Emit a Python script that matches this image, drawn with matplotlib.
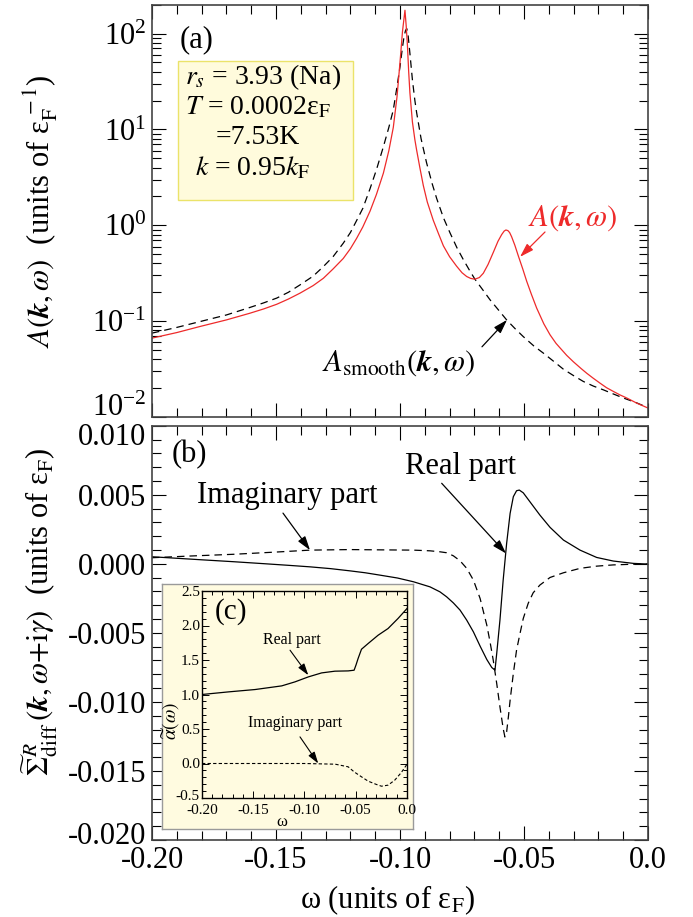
import matplotlib
matplotlib.use('Agg')
import matplotlib.pyplot as plt
import matplotlib.ticker as mticker
import matplotlib.transforms as mtrans
from matplotlib.patches import Rectangle
import numpy as np

plt.rcParams['font.family'] = 'serif'
plt.rcParams['font.serif'] = ['Liberation Serif', 'DejaVu Serif']
plt.rcParams['mathtext.fontset'] = 'stix'
plt.rcParams['axes.unicode_minus'] = False

#----------------------------------------------------------------------------
# panel (a): spectral function A(k,w), log scale
w_red = [-0.2000, -0.1900, -0.1806, -0.1700, -0.1605, -0.1550, -0.1497, -0.1450, -0.1403,
         -0.1350, -0.1309, -0.1270, -0.1229, -0.1200, -0.1175, -0.1150, -0.1121, -0.1095,
         -0.1067, -0.1045, -0.1027, -0.1012, -0.1000, -0.0990, -0.0980, -0.0975, -0.0970,
         -0.0965, -0.0960, -0.0950, -0.0940, -0.0933, -0.0920, -0.0906, -0.0890, -0.0866,
         -0.0845, -0.0825, -0.0800, -0.0772, -0.0750, -0.0731, -0.0715, -0.0698, -0.0680,
         -0.0664, -0.0645, -0.0624, -0.0605, -0.0590, -0.0580, -0.0573, -0.0565, -0.0558,
         -0.0550, -0.0537, -0.0523, -0.0505, -0.0489, -0.0470, -0.0449, -0.0420, -0.0395,
         -0.0371, -0.0355, -0.0328, -0.0301, -0.0269, -0.0247, -0.0221, -0.0194, -0.0167,
         -0.0140, -0.0113, -0.0086, -0.0044, 0.0]
A_red = [0.0665, 0.076, 0.088, 0.103, 0.121, 0.134, 0.150, 0.170, 0.196,
         0.235, 0.280, 0.350, 0.450, 0.57, 0.73, 0.96, 1.40, 2.1,
         3.5, 6.0, 10.5, 22.0, 50.0, 105.0, 175.0, 120.0, 75.0,
         40.0, 24.0, 12.0, 7.8, 6.1, 4.0, 2.6, 1.75, 1.13,
         0.82, 0.61, 0.47, 0.375, 0.32, 0.292, 0.279, 0.274, 0.285,
         0.316, 0.39, 0.52, 0.68, 0.80, 0.87, 0.893, 0.88, 0.84,
         0.76, 0.62, 0.48, 0.35, 0.26, 0.19, 0.137, 0.0937, 0.0720,
         0.0587, 0.0527, 0.0440, 0.0377, 0.0319, 0.0286, 0.0254, 0.0226, 0.0202,
         0.0185, 0.0170, 0.0158, 0.0139, 0.0124]

w_smooth = [-0.2000, -0.1900, -0.1806, -0.1700, -0.1605, -0.1550, -0.1497, -0.1450, -0.1403,
            -0.1350, -0.1309, -0.1270, -0.1229, -0.1200, -0.1175, -0.1150, -0.1121, -0.1095,
            -0.1067, -0.1045, -0.1027, -0.1012, -0.1000, -0.0990, -0.0984, -0.0978, -0.0973,
            -0.0968, -0.0960, -0.0950, -0.0940, -0.0933, -0.0915, -0.0893, -0.0870, -0.0852,
            -0.0825, -0.0798, -0.0770, -0.0745, -0.0720, -0.0698, -0.0665, -0.0637, -0.0600,
            -0.0570, -0.0535, -0.0503, -0.0460, -0.0422, -0.0380, -0.0341, -0.0300, -0.0261,
            -0.0220, -0.0180, -0.0140, -0.0100, -0.0050, 0.0]
A_smooth = [0.075, 0.086, 0.099, 0.116, 0.139, 0.155, 0.174, 0.200, 0.239,
            0.295, 0.371, 0.47, 0.649, 0.84, 1.12, 1.5, 2.4, 3.8,
            6.6, 10.5, 16.0, 28.0, 45.0, 72.0, 92.0, 107.0, 113.0,
            100.0, 62.0, 33.0, 20.0, 15.0, 8.0, 4.5, 2.7, 1.9,
            1.2, 0.83, 0.58, 0.44, 0.34, 0.274, 0.21, 0.167, 0.128,
            0.103, 0.083, 0.069, 0.055, 0.0464, 0.038, 0.0315, 0.027, 0.0235,
            0.0210, 0.0192, 0.0174, 0.0158, 0.0142, 0.0125]

# panel (b): self energy difference, real and imaginary part
w_re = [-0.2, -0.19, -0.18, -0.167, -0.155, -0.145, -0.1363, -0.128, -0.1202,
        -0.1140, -0.1081, -0.1010, -0.0946, -0.0879, -0.0839, -0.0812, -0.0785, -0.0758,
        -0.0731, -0.0704, -0.0677, -0.0650, -0.0630, -0.0617, -0.0610, -0.0597, -0.0584,
        -0.0570, -0.0556, -0.0543, -0.0530, -0.0519, -0.0503, -0.0476, -0.0436, -0.0395,
        -0.0341, -0.0274, -0.0207, -0.0140, -0.0059, 0.0]
sig_re = [0.00051, 0.00040, 0.00029, 0.00015, 0.00001, -0.00011, -0.00022, -0.00035, -0.00051,
          -0.00065, -0.00082, -0.00103, -0.00130, -0.00167, -0.00203, -0.00239, -0.00283, -0.00335,
          -0.00408, -0.00493, -0.00596, -0.00693, -0.00751, -0.00770, -0.00649, -0.00408, -0.00118,
          0.00148, 0.00365, 0.00486, 0.00529, 0.00534, 0.00514, 0.00449, 0.00353, 0.00264,
          0.00172, 0.00099, 0.00046, 0.00020, 0.00003, -0.00002]

w_im = [-0.2, -0.185, -0.167, -0.15, -0.1363, -0.1202, -0.1081, -0.0946, -0.0879,
        -0.0839, -0.0812, -0.0785, -0.0758, -0.0731, -0.0704, -0.0677, -0.0650, -0.0637,
        -0.0624, -0.0610, -0.0597, -0.0584, -0.0577, -0.0570, -0.0563, -0.0556, -0.0543,
        -0.0530, -0.0516, -0.0503, -0.0483, -0.0463, -0.0436, -0.0395, -0.0341, -0.0274,
        -0.0207, -0.0140, -0.0059, 0.0]
sig_im = [0.00044, 0.00056, 0.00069, 0.00085, 0.00099, 0.00103, 0.00101, 0.00099, 0.00094,
          0.00087, 0.00080, 0.00058, 0.00022, -0.00033, -0.00118, -0.00251, -0.00444, -0.00565,
          -0.00698, -0.00867, -0.01036, -0.01193, -0.01254, -0.01217, -0.01109, -0.00988, -0.00794,
          -0.00625, -0.00504, -0.00396, -0.00286, -0.00210, -0.00154, -0.00099, -0.00065, -0.00033,
          -0.00017, -0.00008, -0.00003, -0.00002]

# panel (c): alpha(w)
w_alre = [-0.2, -0.1741, -0.1482, -0.1222, -0.1093, -0.0963, -0.0833, -0.0703, -0.0574,
          -0.0516, -0.0497, -0.0477, -0.0444, -0.0379, -0.0282, -0.0185, -0.0088, 0.0]
al_re = [1.00, 1.038, 1.072, 1.125, 1.183, 1.255, 1.313, 1.338, 1.342,
         1.352, 1.43, 1.522, 1.656, 1.739, 1.859, 1.956, 2.101, 2.246]
w_alim = [-0.2, -0.15, -0.10, -0.07, -0.0574, -0.0516, -0.0444, -0.0379, -0.0298,
          -0.0249, -0.0185, -0.0120, -0.0055, 0.0]
al_im = [0.0, 0.0, 0.0, -0.01, -0.048, -0.121, -0.193, -0.256, -0.304,
         -0.329, -0.314, -0.242, -0.130, -0.01]

x_ticks = [-0.20, -0.15, -0.10, -0.05, 0.0]
x_ticklabels = ['-0.20', '-0.15', '-0.10', '-0.05', '0.0']
ya_ticks = [0.01, 0.1, 1.0, 10.0, 100.0]
yb_ticks = [-0.020, -0.015, -0.010, -0.005, 0.000, 0.005, 0.010]
yb_ticklabels = ['-0.020', '-0.015', '-0.010', '-0.005', '0.000', '0.005', '0.010']
yc_ticks = [-0.5, 0.0, 0.5, 1.0, 1.5, 2.0, 2.5]
yc_ticklabels = ['-0.5', '0.0', '0.5', '1.0', '1.5', '2.0', '2.5']

RED = '#ee2a2a'
FS = 22
W, H = 693., 917.
ARROW = '-|>,head_length=0.7,head_width=0.22'

#----------------------------------------------------------------------------
def style(ax, fs, big, small, lw):
    ax.tick_params(which='both', direction='in', top=True, right=True, width=lw,
                   labelsize=fs, pad=4)
    ax.tick_params(which='major', length=big)
    ax.tick_params(which='minor', length=small)
    for s in ax.spines.values():
        s.set_linewidth(lw + 0.4)
        s.set_color('#444444')


def nudge(label, dy):
    # shift a tick label vertically by dy points
    label.set_transform(label.get_transform() +
                        mtrans.ScaledTranslation(0, dy/72., fig.dpi_scale_trans))


fig = plt.figure(figsize=(6.93, 9.17), dpi=100)

# ---------------- panel (a)
ax1 = fig.add_axes([152/W, 1-417/H, 496/W, 412.3/H])
ax1.set_yscale('log')
ax1.plot(w_smooth, A_smooth, color='k', lw=0.9, ls=(0, (6, 4)))
ax1.plot(w_red, A_red, color=RED, lw=0.9)
ax1.set_xlim(-0.2, 0.0)
ax1.set_ylim(0.01, 200)
ax1.xaxis.set_major_locator(mticker.FixedLocator(x_ticks))
ax1.xaxis.set_minor_locator(mticker.MultipleLocator(0.01))
ax1.yaxis.set_major_locator(mticker.FixedLocator(ya_ticks))
ax1.yaxis.set_minor_locator(mticker.LogLocator(base=10, subs=np.arange(2, 10), numticks=20))
ax1.yaxis.set_minor_formatter(mticker.NullFormatter())
style(ax1, FS, 10, 6.5, 0.8)
ax1.tick_params(labelbottom=False)
ax1.set_ylabel(r'$A(\boldsymbol{k},\omega)$  (units of ε$_{\rm F}^{\,-1}$)', fontsize=FS)
ax1.yaxis.set_label_coords(-0.185, 0.5)

ax1.text(0.09, 0.915, '(a)', transform=ax1.transAxes, fontsize=FS, ha='center', va='center')

ax1.add_patch(Rectangle((0.0524, 0.5263), 0.3528, 0.3371, transform=ax1.transAxes,
                        facecolor='#fffbdc', edgecolor='#ebe36a', lw=1.0, zorder=3))
ax1.text(0.0665, 0.8246, r'$r_s$ = 3.93 (Na)', transform=ax1.transAxes, fontsize=20,
         va='center', zorder=4)
ax1.text(0.0665, 0.7494, r'$T$ = 0.0002ε$_{\rm F}$', transform=ax1.transAxes, fontsize=20,
         va='center', zorder=4)
ax1.text(0.129, 0.6791, '=7.53K', transform=ax1.transAxes, fontsize=20,
         va='center', zorder=4)
ax1.text(0.0867, 0.6039, r'$k$ = 0.95$k_{\rm F}$', transform=ax1.transAxes, fontsize=20,
         va='center', zorder=4)

ax1.annotate('', xy=(-0.05161, 0.468), xytext=(-0.04153, 0.851),
             arrowprops=dict(arrowstyle=ARROW, color=RED, lw=0.9, mutation_scale=12,
                             shrinkA=0, shrinkB=0))
ax1.text(-0.0484, 1.19, r'$A(\boldsymbol{k},\omega)$', color=RED, fontsize=FS,
         ha='left', va='center')
ax1.annotate('', xy=(-0.05685, 0.103), xytext=(-0.06694, 0.054),
             arrowprops=dict(arrowstyle=ARROW, color='k', lw=0.9, mutation_scale=12,
                             shrinkA=0, shrinkB=0))
ax1.text(-0.1315, 0.0368, r'$A_{\rm smooth}(\boldsymbol{k},\omega)$', fontsize=FS,
         ha='left', va='center')

# ---------------- panel (b)
ax2 = fig.add_axes([152/W, 1-840/H, 496/W, 414.3/H])
ax2.plot(w_im, sig_im, color='k', lw=0.9, ls=(0, (6, 4)))
ax2.plot(w_re, sig_re, color='k', lw=0.9)
ax2.set_xlim(-0.2, 0.0)
ax2.set_ylim(-0.02, 0.01)
ax2.set_xticks(x_ticks)
ax2.set_xticklabels(x_ticklabels)
ax2.set_yticks(yb_ticks)
ax2.set_yticklabels(yb_ticklabels)
ax2.xaxis.set_minor_locator(mticker.MultipleLocator(0.01))
ax2.yaxis.set_minor_locator(mticker.MultipleLocator(0.001))
style(ax2, FS, 10, 6.5, 0.8)
ax2.set_xlabel('ω (units of ε$_{\\rm F}$)', fontsize=FS)
ax2.xaxis.set_label_coords(0.475, -0.105)
ax2.set_ylabel(r'$\widetilde{\Sigma}^{R}_{\rm diff}\,(\boldsymbol{k},\omega{+}{\rm i}\gamma)$  (units of ε$_{\rm F}$)',
               fontsize=FS)
ax2.yaxis.set_label_coords(-0.185, 0.55)

ax2.text(0.075, 0.93, '(b)', transform=ax2.transAxes, fontsize=FS, ha='center', va='center')
ax2.text(-0.1819, 0.0044, 'Imaginary part', fontsize=FS, ha='left', va='baseline')
ax2.annotate('', xy=(-0.13629, 0.00099), xytext=(-0.14718, 0.00367),
             arrowprops=dict(arrowstyle=ARROW, color='k', lw=0.9, mutation_scale=12,
                             shrinkA=0, shrinkB=0))
ax2.text(-0.098, 0.00648, 'Real part', fontsize=FS, ha='left', va='baseline')
ax2.annotate('', xy=(-0.05726, 0.00075), xytext=(-0.08319, 0.00583),
             arrowprops=dict(arrowstyle=ARROW, color='k', lw=0.9, mutation_scale=12,
                             shrinkA=0, shrinkB=0))

# ---------------- inset (c)
bg = fig.add_axes([162/W, 1-829/H, 251/W, 245/H])
bg.set_xticks([])
bg.set_yticks([])
bg.set_facecolor('#fffbe0')
for s in bg.spines.values():
    s.set_color('#9a9a9a')
    s.set_linewidth(1.0)

ax3 = fig.add_axes([202/W, 1-798/H, 205/W, 207/H])
ax3.set_facecolor('none')
ax3.plot(w_alim, al_im, color='k', lw=0.8, ls=(0, (3, 2)))
ax3.plot(w_alre, al_re, color='k', lw=0.9)
ax3.set_xlim(-0.2, 0.0)
ax3.set_ylim(-0.5, 2.5)
ax3.set_xticks(x_ticks)
ax3.set_xticklabels(x_ticklabels)
ax3.set_yticks(yc_ticks)
ax3.set_yticklabels(yc_ticklabels)
ax3.xaxis.set_minor_locator(mticker.MultipleLocator(0.01))
ax3.yaxis.set_minor_locator(mticker.MultipleLocator(0.1))
style(ax3, 11, 5, 3, 0.7)
ax3.tick_params(axis='y', pad=1.5)
ax3.tick_params(axis='x', pad=4)
for s in ax3.spines.values():
    s.set_color('k')
    s.set_linewidth(1.0)
ax3.text(0.39, -0.115, 'ω', transform=ax3.transAxes, fontsize=12, ha='center', va='center')
ax3.text(-0.15, 0.37, r'$\widetilde{\alpha}(\omega)$', transform=ax3.transAxes, fontsize=14,
         rotation=90, ha='center', va='center')

ax3.text(0.14, 0.9, '(c)', transform=ax3.transAxes, fontsize=21, ha='center', va='center')
ax3.text(-0.1401, 1.725, 'Real part', fontsize=11.5, ha='left', va='baseline')
ax3.annotate('', xy=(-0.0963, 1.28), xytext=(-0.1141, 1.642),
             arrowprops=dict(arrowstyle=ARROW, color='k', lw=0.8, mutation_scale=10,
                             shrinkA=0, shrinkB=0))
ax3.text(-0.1547, 0.53, 'Imaginary part', fontsize=11.5, ha='left', va='baseline')
ax3.annotate('', xy=(-0.0866, 0.0), xytext=(-0.1044, 0.386),
             arrowprops=dict(arrowstyle=ARROW, color='k', lw=0.8, mutation_scale=10,
                             shrinkA=0, shrinkB=0))

# end labels pulled inward, as in the original
fig.canvas.draw()
nudge(ax1.get_yticklabels()[0], 9)
nudge(ax2.get_yticklabels()[0], 5)
nudge(ax2.get_yticklabels()[-1], -6)
nudge(ax3.get_yticklabels()[0], 2)

fig.savefig('out.png', dpi=100)
